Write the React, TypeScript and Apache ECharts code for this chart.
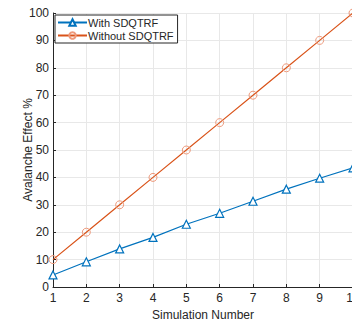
import React, { useEffect, useRef } from "react";
import * as echarts from "echarts";

const simulationNumbers = [1, 2, 3, 4, 5, 6, 7, 8, 9, 10];
const withSDQTRF = [4.4, 9.2, 13.9, 18.1, 22.9, 26.9, 31.3, 35.7, 39.7, 43.5];
const withoutSDQTRF = [10, 20, 30, 40, 50, 60, 70, 80, 90, 100];

const FONT = "Liberation Sans";
const TEXT = "#262626";

export default function App() {
  const ref = useRef<HTMLDivElement>(null);
  useEffect(() => {
    if (!ref.current) return;
    const chart = echarts.init(ref.current, undefined, { renderer: "svg" });
    chart.setOption({
      animation: false,
      backgroundColor: "#ffffff",
      textStyle: { fontFamily: FONT },
      grid: { left: 53, top: 13, right: -1, bottom: 35, containLabel: false, outerBoundsMode: "none" },
      legend: {
        orient: "vertical",
        left: 55,
        top: 15,
        backgroundColor: "#ffffff",
        borderColor: "#262626",
        borderWidth: 1,
        borderRadius: 0,
        padding: [2, 4, 2, 2],
        itemGap: 2,
        itemWidth: 29,
        itemHeight: 8,
        textStyle: { fontFamily: FONT, fontSize: 11, color: TEXT, padding: [0, 0, 0, -4] },
        data: ["With SDQTRF", "Without SDQTRF"],
      },
      xAxis: {
        type: "value",
        min: 1,
        max: 10,
        interval: 1,
        name: "Simulation Number",
        nameLocation: "middle",
        nameGap: 22,
        nameMoveOverlap: false,
        nameTextStyle: { fontFamily: FONT, fontSize: 12, color: TEXT },
        axisLine: { show: true, lineStyle: { color: TEXT, width: 1 } },
        axisTick: { show: true, inside: true, length: 3, lineStyle: { color: TEXT } },
        axisLabel: { fontFamily: FONT, fontSize: 12, color: TEXT, margin: 5 },
        splitLine: { show: true, lineStyle: { color: "#e8e8e8", width: 1, type: "solid" } },
      },
      yAxis: {
        type: "value",
        min: 0,
        max: 100,
        interval: 10,
        name: "Avalanche Effect %",
        nameLocation: "middle",
        nameGap: 19,
        nameMoveOverlap: false,
        nameTextStyle: { fontFamily: FONT, fontSize: 12, color: TEXT },
        axisLine: { show: true, lineStyle: { color: TEXT, width: 1 } },
        axisTick: { show: true, inside: true, length: 3, lineStyle: { color: TEXT } },
        axisLabel: { fontFamily: FONT, fontSize: 12, color: TEXT, margin: 4 },
        splitLine: { show: true, lineStyle: { color: "#e8e8e8", width: 1, type: "solid" } },
      },
      series: [
        {
          name: "With SDQTRF",
          type: "line",
          data: simulationNumbers.map((x, i) => [x, withSDQTRF[i]]),
          symbol: "triangle",
          symbolSize: 8,
          showAllSymbol: true,
          lineStyle: { color: "#0072BD", width: 1.2, type: "solid" },
          itemStyle: { color: "#ffffff", borderColor: "#0072BD", borderWidth: 1.2 },
          z: 3,
        },
        {
          name: "Without SDQTRF",
          type: "line",
          data: simulationNumbers.map((x, i) => [x, withoutSDQTRF[i]]),
          symbol: "circle",
          symbolSize: 8,
          showAllSymbol: true,
          lineStyle: { color: "#D95319", width: 1.2, type: "solid" },
          itemStyle: { color: "rgba(255,255,255,0)", borderColor: "#EE9A7C", borderWidth: 1 },
          z: 2,
        },
      ],
    });
    return () => chart.dispose();
  }, []);
  return (
    <div
      ref={ref}
      style={{ position: "fixed", left: 0, top: 0, width: 352, height: 322, overflow: "hidden" }}
    />
  );
}
